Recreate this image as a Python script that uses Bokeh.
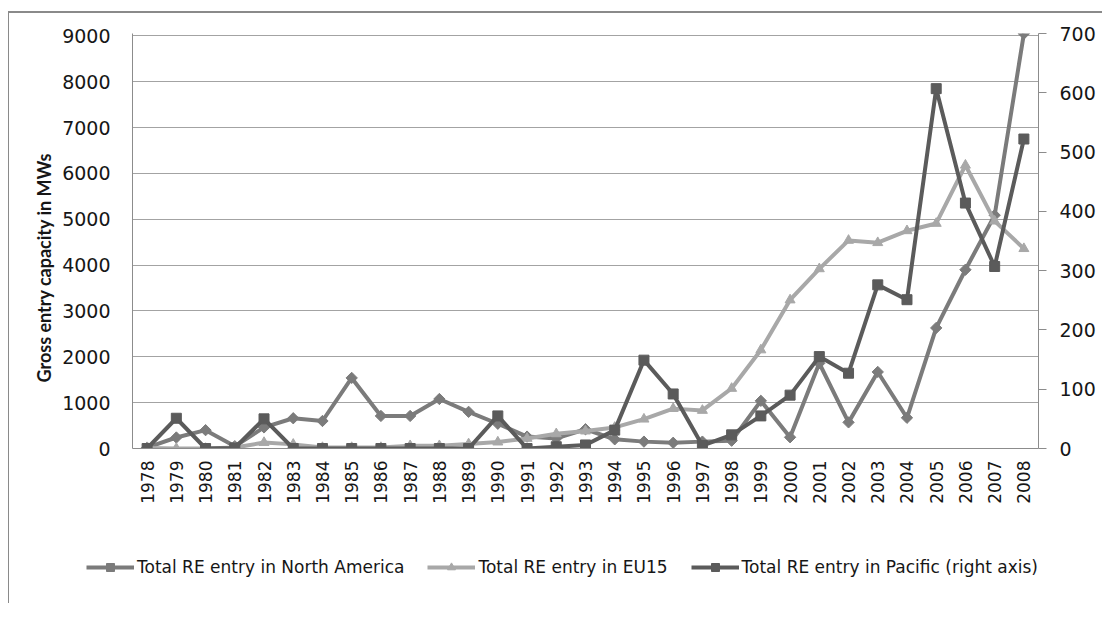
from math import pi
from bokeh.plotting import figure
from bokeh.layouts import column
from bokeh.models import (Range1d, FactorRange, LinearAxis, FixedTicker, Legend, LegendItem, Title)
from bokeh.embed import file_html
from bokeh.resources import INLINE

years = ["1978", "1979", "1980", "1981", "1982", "1983", "1984", "1985", "1986", "1987",
         "1988", "1989", "1990", "1991", "1992", "1993", "1994", "1995", "1996", "1997",
         "1998", "1999", "2000", "2001", "2002", "2003", "2004", "2005", "2006", "2007", "2008"]

north_america = [20, 240, 400, 50, 460, 660, 600, 1540, 710, 710,
                 1080, 800, 540, 260, 220, 420, 200, 150, 125, 150,
                 170, 1040, 245, 1860, 570, 1670, 670, 2630, 3900, 5090, 9050]

eu15 = [10, 0, 0, 20, 130, 90, 20, 20, 20, 60,
        60, 100, 140, 220, 320, 380, 460, 640, 870, 830,
        1310, 2150, 3240, 3920, 4540, 4490, 4750, 4910, 6180, 4960, 4360]

pacific = [0, 51, 0, 1, 50, 0, 0, 0, 0, 0,
           0, 0, 55, 0, 3, 6, 31, 149, 92, 5,
           23, 55, 90, 155, 127, 276, 251, 607, 414, 307, 522]

left_ticks = [0, 1000, 2000, 3000, 4000, 5000, 6000, 7000, 8000, 9000]
right_ticks = [0, 100, 200, 300, 400, 500, 600, 700]

y_title = "Gross entry capacity in MWs"
labels = ["Total RE entry in North America", "Total RE entry in EU15",
          "Total RE entry in Pacific (right axis)"]

C_NA = "#7b7b7b"
C_EU = "#a8a8a8"
C_PAC = "#5b5b5b"
AX = "#8c8c8c"
TXT = "#161616"

p = figure(width=1093, height=520, x_range=FactorRange(*years),
           y_range=Range1d(0, 9054), output_backend="svg", toolbar_location=None,
           min_border_left=123, min_border_right=64, min_border_top=20, min_border_bottom=85)
p.frame_align = False
p.extra_y_ranges = {"right": Range1d(0, 700)}
p.outline_line_color = None
p.background_fill_color = "white"
p.border_fill_color = "white"

# grid
p.xgrid.grid_line_color = None
p.ygrid.grid_line_color = "#a3a3a3"
p.ygrid.grid_line_width = 1
p.yaxis.ticker = FixedTicker(ticks=left_ticks)

# left axis
ya = p.yaxis[0]
ya.major_label_text_font = "DejaVu Sans"
ya.major_label_text_font_size = "19px"
ya.major_label_text_color = TXT
ya.major_label_standoff = 22
ya.major_tick_out = 0
ya.major_tick_in = 0
ya.minor_tick_out = 0
ya.minor_tick_in = 0
ya.axis_line_color = AX

# left axis title (sits a little below the frame centre, as in the original)
p.add_layout(Title(text=y_title, align="left", offset=66, standoff=10,
                   text_font="Lato", text_font_style="bold", text_font_size="18px",
                   text_color=TXT), "left")

# x axis
xa = p.xaxis[0]
xa.major_label_orientation = pi / 2
xa.major_label_text_font = "DejaVu Sans"
xa.major_label_text_font_size = "17px"
xa.major_label_text_color = TXT
xa.major_label_standoff = 12
xa.major_tick_out = 0
xa.major_tick_in = 0
xa.axis_line_color = AX

# right axis
ra = LinearAxis(y_range_name="right", ticker=FixedTicker(ticks=right_ticks))
ra.major_label_text_font = "DejaVu Sans"
ra.major_label_text_font_size = "19px"
ra.major_label_text_color = TXT
ra.major_label_standoff = 13
ra.major_tick_out = 8
ra.major_tick_in = 0
ra.minor_tick_out = 0
ra.minor_tick_in = 0
ra.major_tick_line_color = AX
ra.axis_line_color = AX
p.add_layout(ra, "right")


def add_series(fig, right_name):
    l1 = fig.line(years, north_america, line_color=C_NA, line_width=4)
    s1 = fig.scatter(years, north_america, marker="square", angle=pi / 4, size=8,
                     fill_color=C_NA, line_color=C_NA)
    l2 = fig.line(years, eu15, line_color=C_EU, line_width=4)
    s2 = fig.scatter(years, eu15, marker="triangle", size=10, fill_color=C_EU, line_color=C_EU)
    l3 = fig.line(years, pacific, line_color=C_PAC, line_width=4, y_range_name=right_name)
    s3 = fig.scatter(years, pacific, marker="square", size=10, fill_color=C_PAC,
                     line_color=C_PAC, y_range_name=right_name)
    return [(l1, s1), (l2, s2), (l3, s3)]


add_series(p, "right")

# legend strip below the chart (its own copies of the series are kept out of view)
lf = figure(width=1093, height=70, x_range=FactorRange(*years), y_range=Range1d(-20, -10),
            output_backend="svg", toolbar_location=None, x_axis_type=None, y_axis_type=None,
            min_border_left=0, min_border_right=0, min_border_top=0, min_border_bottom=0)
lf.frame_align = False
lf.extra_y_ranges = {"right": Range1d(-20, -10)}
lf.outline_line_color = None
lf.xgrid.grid_line_color = None
lf.ygrid.grid_line_color = None
pairs = add_series(lf, "right")

legend = Legend(items=[LegendItem(label=labels[i], renderers=list(pairs[i])) for i in range(3)],
                orientation="horizontal", location=(77, 26),
                padding=0, margin=0, spacing=23, glyph_width=48, label_standoff=3,
                border_line_alpha=0, background_fill_alpha=0,
                label_text_font="DejaVu Sans", label_text_font_size="17px",
                label_text_color=TXT)
lf.add_layout(legend)

layout = column(p, lf, spacing=0)
layout.styles = {"border-top": "2px solid #8a8a8a", "border-left": "1px solid #8a8a8a",
                 "margin-top": "11px", "margin-left": "8px"}

open("out.html", "w").write(file_html(layout, INLINE))
